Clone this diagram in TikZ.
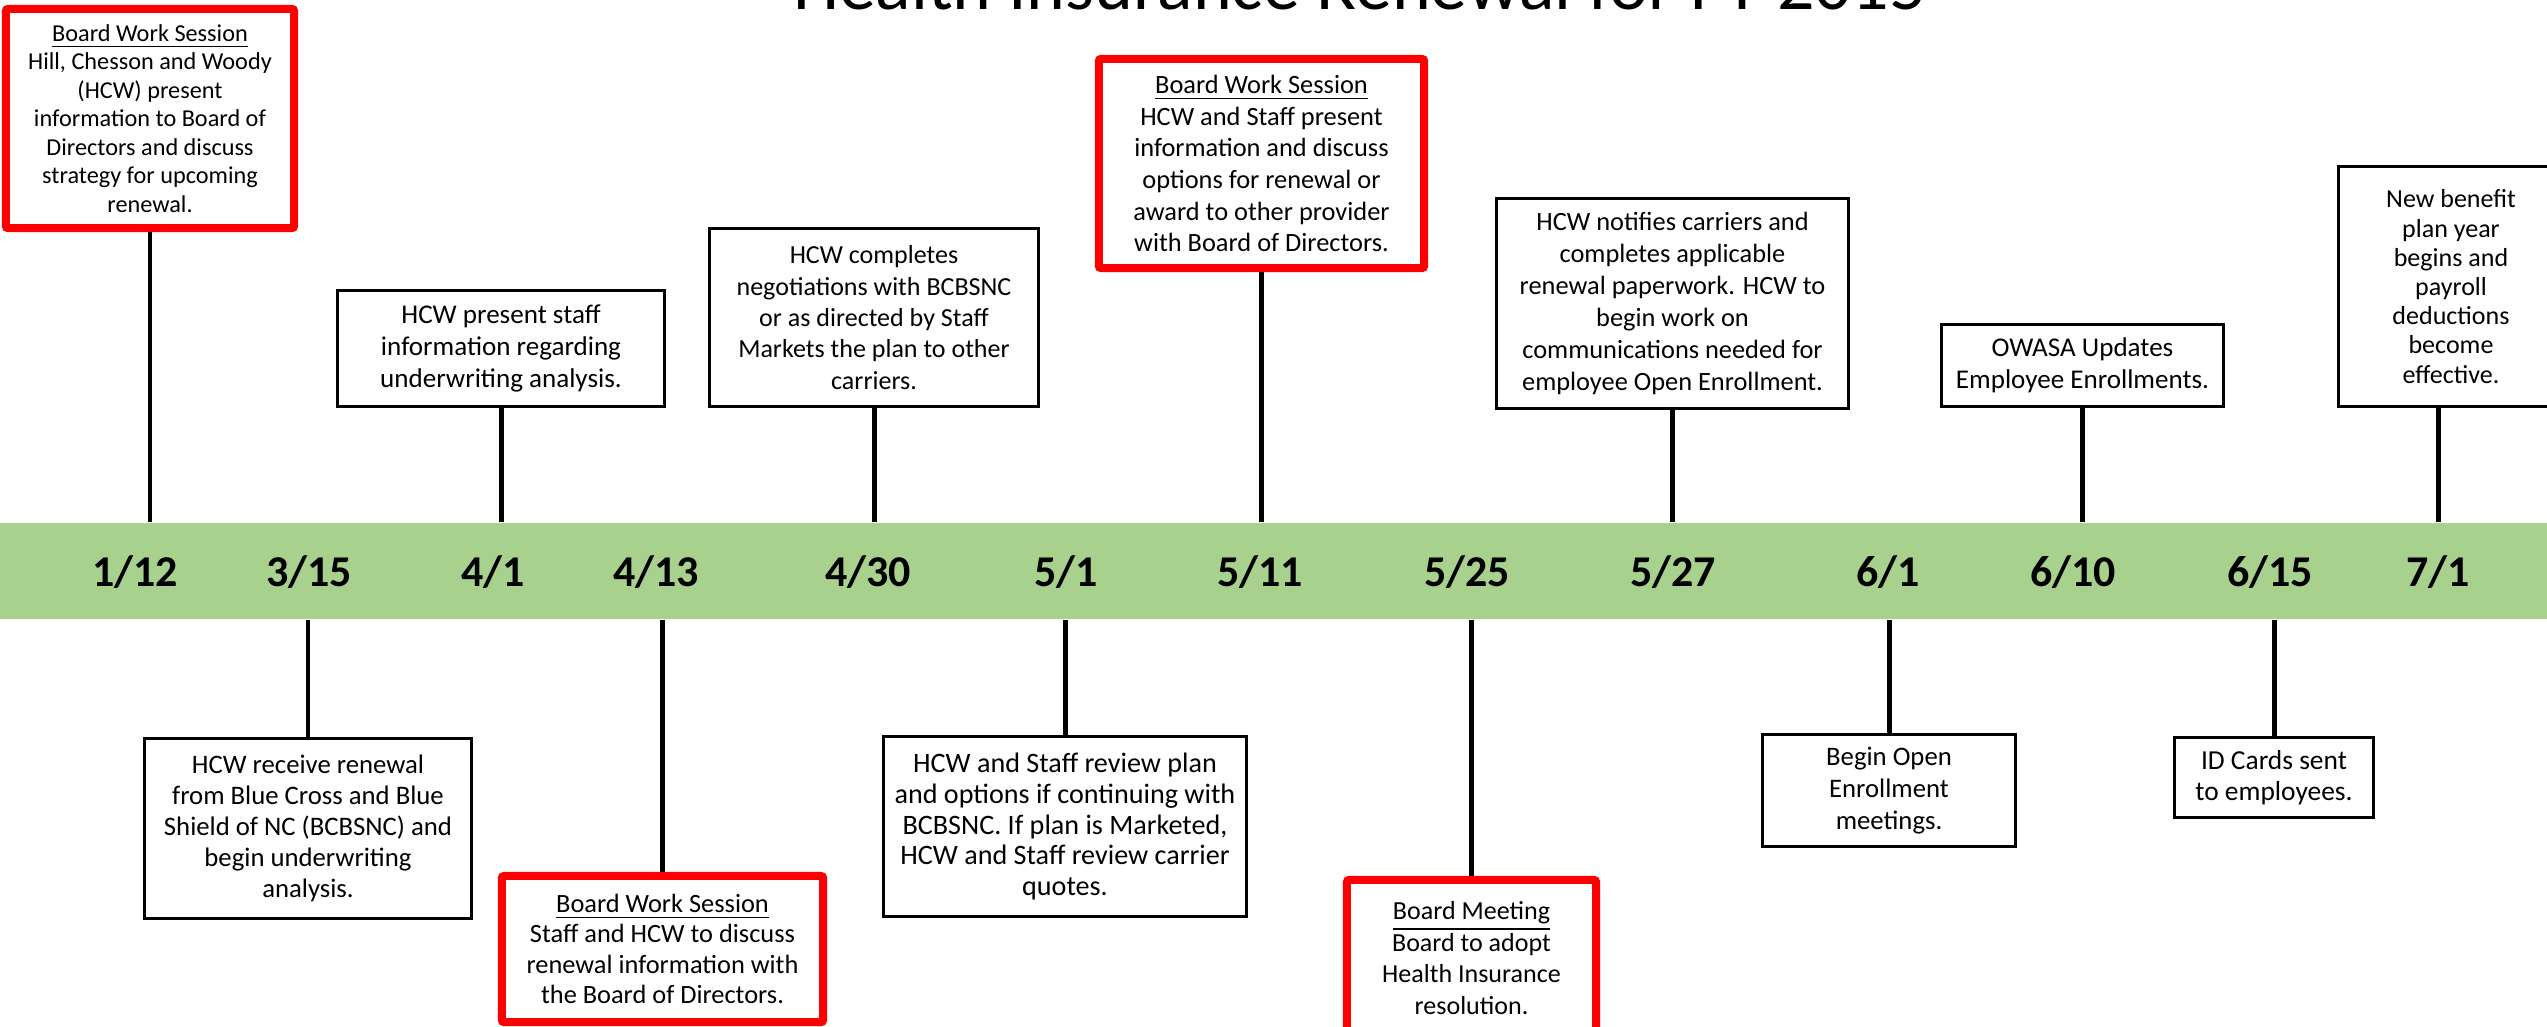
\documentclass[tikz,border=0pt]{standalone}
\usepackage{fontspec}
\setmainfont{Carlito}
\definecolor{bandgreen}{RGB}{169,209,142}
\newcommand{\notefont}{\fontsize{7.6}{9}\selectfont}
\newcommand{\datefont}{\fontsize{12.5}{15}\selectfont\bfseries}
\tikzset{
  note/.style={draw=black, line width=0.85pt, fill=white, align=center, inner sep=0pt, font=\notefont},
  board/.style={note, draw=red, line width=2.28pt, rounded corners=0.6pt},
  stem/.style={line width=1.42pt},
  datelabel/.style={font=\datefont, inner sep=0pt},
}
\begin{document}
\begin{tikzpicture}[x=0.01cm, y=-0.01cm]
\useasboundingbox (0,0) rectangle (2547,1026);
\clip (0,0) rectangle (2547,1026);

\node[fill=bandgreen, minimum width=25.47cm, minimum height=0.96cm, inner sep=0pt] (band) at (1273.5,571) {};
\node[anchor=base, font=\fontsize{21}{25}\selectfont] (title) at (1360,9) {Health Insurance Renewal for FY 2015};

% above the band
\node[board, minimum width=2.88cm, minimum height=2.19cm, font=\fontsize{6.9}{8.1}\selectfont] (r112) at (150,118.5)
  {\underline{Board Work Session}\\Hill, Chesson and Woody\\(HCW) present\\information to Board of\\Directors and discuss\\strategy for upcoming\\renewal.};
\node[note, minimum width=3.27cm, minimum height=1.16cm, font=\fontsize{7.7}{9}\selectfont] (b41) at (501,348.5)
  {HCW present staff\\information regarding\\underwriting analysis.};
\node[note, minimum width=3.29cm, minimum height=1.78cm, font=\fontsize{7.4}{8.9}\selectfont] (b430) at (874,317.5)
  {HCW completes\\negotiations with BCBSNC\\or as directed by Staff\\Markets the plan to other\\carriers.};
\node[board, minimum width=3.25cm, minimum height=2.09cm, font=\fontsize{7.5}{9}\selectfont] (r511) at (1261.5,163.5)
  {\underline{Board Work Session}\\HCW and Staff present\\information and discuss\\options for renewal or\\award to other provider\\with Board of Directors.};
\node[note, minimum width=3.52cm, minimum height=2.09cm, font=\fontsize{7.5}{9.1}\selectfont] (b527) at (1672.5,303.5)
  {HCW notifies carriers and\\completes applicable\\renewal paperwork. HCW to\\begin work on\\communications needed for\\employee Open Enrollment.};
\node[note, minimum width=2.82cm, minimum height=0.82cm, font=\fontsize{7.7}{9}\selectfont] (b610) at (2082.5,365.5)
  {OWASA Updates\\Employee Enrollments.};
\node[note, minimum width=2.25cm, minimum height=2.40cm, font=\fontsize{7.4}{8.3}\selectfont] (b71) at (2451,286.5)
  {New benefit\\plan year\\begins and\\payroll\\deductions\\become\\effective.};

% below the band
\node[note, minimum width=3.27cm, minimum height=1.80cm, font=\fontsize{7.6}{8.8}\selectfont] (b315) at (308,828.5)
  {HCW receive renewal\\from Blue Cross and Blue\\Shield of NC (BCBSNC) and\\begin underwriting\\analysis.};
\node[board, minimum width=3.21cm, minimum height=1.46cm, font=\fontsize{7.5}{8.7}\selectfont] (r413) at (662.5,949)
  {\underline{Board Work Session}\\Staff and HCW to discuss\\renewal information with\\the Board of Directors.};
\node[note, minimum width=3.63cm, minimum height=1.80cm, font=\fontsize{8}{8.8}\selectfont] (b51) at (1065,826.5)
  {HCW and Staff review plan\\and options if continuing with\\BCBSNC. If plan is Marketed,\\HCW and Staff review carrier\\quotes.};
\node[board, minimum width=2.49cm, minimum height=1.56cm, font=\fontsize{7.4}{9}\selectfont] (r525) at (1471.5,958)
  {\underline{Board Meeting}\\Board to adopt\\Health Insurance\\resolution.};
\node[note, minimum width=2.53cm, minimum height=1.12cm] (b61) at (1889,790.5)
  {Begin Open\\Enrollment\\meetings.};
\node[note, minimum width=1.99cm, minimum height=0.80cm, font=\fontsize{7.8}{9}\selectfont] (b615) at (2274,777.5)
  {ID Cards sent\\to employees.};

% dates
\foreach \x/\m/\dd in {135/1/12, 309/3/15, 493/4/1, 656/4/13, 868/4/30, 1066/5/1, 1260/5/11,
    1467/5/25, 1673/5/27, 1888/6/1, 2073/6/10, 2270/6/15, 2438/7/1}
  \node[datelabel] (date-\m-\dd) at (\x,572) {\m/\dd};

% stems to the band
\foreach \b in {r112,b41,b430,r511,b527,b610}
  \draw[stem] (\b.south) -- (\b.south |- band.north);
\draw[stem] (b71.south -| date-7-1) -- (band.north -| date-7-1);
\foreach \b in {b315,r413,b51,r525,b61,b615}
  \draw[stem] (\b.north) -- (\b.north |- band.south);
\end{tikzpicture}
\end{document}
